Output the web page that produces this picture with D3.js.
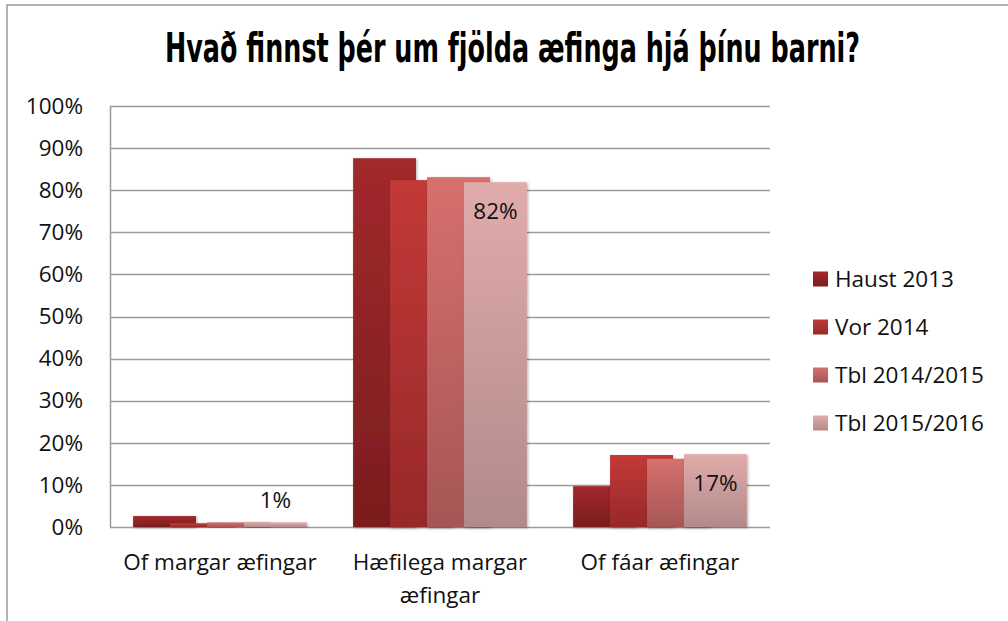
<!DOCTYPE html>
<html>
<head>
<meta charset="utf-8">
<script src="https://cdn.jsdelivr.net/npm/d3@7"></script>
<style>
  body { margin: 0; background: #fff; }
  text { font-family: "Open Sans", "Noto Sans", sans-serif; fill: #111; }
</style>
</head>
<body>
<div id="container"></div>
<script>
var categories = ["Of margar æfingar", "Hæfilega margar æfingar", "Of fáar æfingar"];
var seriesNames = ["Haust 2013", "Vor 2014", "Tbl 2014/2015", "Tbl 2015/2016"];
var haust2013 = [0.026, 0.876, 0.097];
var vor2014 = [0.009, 0.824, 0.171];
var tbl1415 = [0.011, 0.831, 0.162];
var tbl1516 = [0.011, 0.819, 0.173];
var yTicks = [0, 0.1, 0.2, 0.3, 0.4, 0.5, 0.6, 0.7, 0.8, 0.9, 1];
var title = "Hvað finnst þér um fjölda æfinga hjá þínu barni?";

var seriesValues = [haust2013, vor2014, tbl1415, tbl1516];
// top / bottom colours of the gradient for each series
var gradTop = ["#a2292b", "#c23a37", "#d6706d", "#e1abab"];
var gradBottom = ["#7a1d1e", "#98282a", "#a65656", "#b28a8a"];

var width = 1008, height = 621;
var plot = {left: 110, top: 106, right: 770, bottom: 527};
var fontSize = "22.5px";

var svg = d3.select("#container").append("svg")
    .attr("width", width)
    .attr("height", height);

var defs = svg.append("defs");
seriesNames.forEach(function(s, i) {
  var lg = defs.append("linearGradient")
      .attr("id", "grad" + i)
      .attr("x1", 0).attr("y1", 0).attr("x2", 0).attr("y2", 1);
  lg.append("stop").attr("offset", "0%").attr("stop-color", gradTop[i]);
  lg.append("stop").attr("offset", "100%").attr("stop-color", gradBottom[i]);
});
var shadow = defs.append("filter").attr("id", "shadow")
    .attr("x", "-10%").attr("y", "-10%").attr("width", "130%").attr("height", "130%");
shadow.append("feDropShadow")
    .attr("dx", 1).attr("dy", 1).attr("stdDeviation", 1.5)
    .attr("flood-color", "#000").attr("flood-opacity", 0.3);

// outer chart border
svg.append("path")
    .attr("d", "M7," + (height + 5) + "V5H" + (width + 5))
    .attr("fill", "none")
    .attr("stroke", "#9a9a9a")
    .attr("stroke-width", 1.5);

// title (condensed look: squeeze horizontally, stretch vertically)
svg.append("text")
    .attr("transform", "translate(165,62) scale(1,1.35)")
    .attr("textLength", 695)
    .attr("lengthAdjust", "spacingAndGlyphs")
    .style("font-family", "'DejaVu Sans Condensed', 'DejaVu Sans', sans-serif")
    .style("font-weight", "bold")
    .style("font-size", "30px")
    .style("fill", "#000")
    .text(title);

var x = d3.scaleBand()
    .domain(categories)
    .range([plot.left, plot.right])
    .padding(0);

var y = d3.scaleLinear()
    .domain([0, 1])
    .range([plot.bottom, plot.top]);

// gridlines
svg.append("g")
  .selectAll("line")
  .data(yTicks)
  .enter().append("line")
    .attr("x1", plot.left)
    .attr("x2", plot.right)
    .attr("y1", function(d) { return Math.round(y(d)) + 0.5; })
    .attr("y2", function(d) { return Math.round(y(d)) + 0.5; })
    .attr("stroke", "#9c9c9c")
    .attr("stroke-width", 1.5);

svg.append("line")
    .attr("x1", plot.left + 0.5).attr("x2", plot.left + 0.5)
    .attr("y1", plot.top).attr("y2", plot.bottom)
    .attr("stroke", "#9c9c9c")
    .attr("stroke-width", 1.5);

// y tick labels
var yAxis = d3.axisLeft(y)
    .tickValues(yTicks)
    .tickFormat(d3.format(".0%"))
    .tickSize(0)
    .tickPadding(27);
var yg = svg.append("g")
    .attr("transform", "translate(" + plot.left + ",0)")
    .call(yAxis);
yg.select(".domain").remove();
yg.selectAll("text")
    .style("font-family", "'Open Sans', 'Noto Sans', sans-serif")
    .style("font-size", fontSize)
    .attr("fill", "#111");

// bars
var bw = x.bandwidth();
var barW = bw * 0.286;
var step = bw * 0.168;
var groupW = barW + step * (seriesNames.length - 1);

function barX(ci, si) {
  return x(categories[ci]) + bw / 2 - groupW / 2 + si * step;
}

seriesNames.forEach(function(s, si) {
  svg.append("g")
    .selectAll("rect")
    .data(seriesValues[si])
    .enter().append("rect")
      .attr("x", function(d, ci) { return barX(ci, si); })
      .attr("y", function(d) { return y(d); })
      .attr("width", barW)
      .attr("height", function(d) { return y(0) - y(d); })
      .attr("fill", "url(#grad" + si + ")")
      .attr("filter", "url(#shadow)");
});

// data labels for the last series
var last = seriesValues.length - 1;
svg.append("g")
  .selectAll("text")
  .data(seriesValues[last])
  .enter().append("text")
    .attr("x", function(d, ci) { return barX(ci, last) + barW / 2; })
    .attr("y", function(d) {
      var h = y(0) - y(d);
      return h > 40 ? y(d) + 37 : y(d) - 14;
    })
    .attr("text-anchor", "middle")
    .style("font-size", fontSize)
    .text(function(d) { return d3.format(".0%")(d); });

// category labels
var xLines = [["Of margar æfingar"], ["Hæfilega margar", "æfingar"], ["Of fáar æfingar"]];
var xg = svg.append("g");
categories.forEach(function(c, ci) {
  var t = xg.append("text")
      .attr("x", x(c) + bw / 2)
      .attr("y", 570)
      .attr("text-anchor", "middle")
      .style("font-size", fontSize);
  xLines[ci].forEach(function(line, li) {
    t.append("tspan")
      .attr("x", x(c) + bw / 2)
      .attr("dy", li === 0 ? 0 : 33)
      .text(line);
  });
});

// legend
var legend = svg.append("g");
seriesNames.forEach(function(s, i) {
  var cy = 279 + i * 48;
  legend.append("rect")
      .attr("x", 813)
      .attr("y", cy - 7.5)
      .attr("width", 15)
      .attr("height", 15)
      .attr("fill", "url(#grad" + i + ")");
  legend.append("text")
      .attr("x", 835)
      .attr("y", cy + 8)
      .style("font-size", fontSize)
      .text(s);
});
</script>
</body>
</html>
